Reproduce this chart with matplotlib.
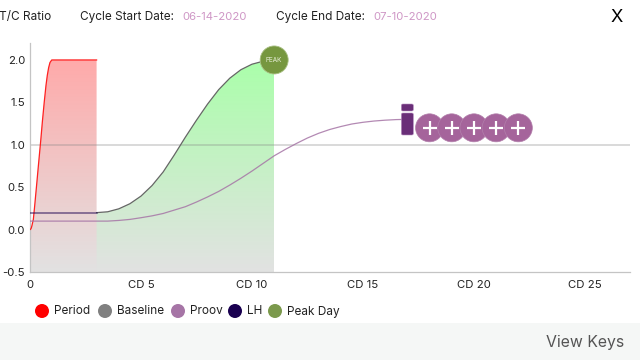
import numpy as np
import matplotlib
matplotlib.use("Agg")
import matplotlib.pyplot as plt
from matplotlib.colors import LinearSegmentedColormap
from matplotlib.patches import Circle, FancyBboxPatch, Polygon, Rectangle

plt.rcParams['font.family'] = ['Inter', 'DejaVu Sans']

# values
period_x = [0, 0.03, 0.06, 0.09, 0.15, 0.2, 0.3, 0.38, 0.48, 0.56, 0.64, 0.72, 0.78, 0.84, 0.9, 0.98, 1.2, 3]
period_y = [0, 0.005, 0.02, 0.05, 0.12, 0.25, 0.53, 0.76, 1.04, 1.28, 1.5, 1.7, 1.82, 1.91, 1.97, 2.0, 2.0, 2.0]
base_x = [3, 3.5, 4, 4.5, 5, 5.5, 6, 6.5, 7, 7.5, 8, 8.5, 9, 9.5, 10, 10.5, 11]
base_y = [0.2, 0.21, 0.245, 0.305, 0.395, 0.52, 0.68, 0.88, 1.09, 1.29, 1.48, 1.65, 1.785, 1.885, 1.95, 1.985, 2.0]
proov_x = [0, 3, 3.5, 4, 4.5, 5, 5.5, 6, 6.5, 7, 7.5, 8, 8.5, 9, 9.5, 10, 10.5, 11, 11.5, 12, 12.5, 13, 13.5, 14, 14.5, 15, 15.5, 16, 16.5, 17]
proov_y = [0.1, 0.1, 0.1, 0.108, 0.12, 0.14, 0.162, 0.19, 0.23, 0.27, 0.325, 0.385, 0.45, 0.525, 0.605, 0.69, 0.78, 0.87, 0.945, 1.015, 1.08, 1.135, 1.18, 1.215, 1.245, 1.265, 1.28, 1.29, 1.297, 1.3]
lh_x = [0, 3]
lh_y = [0.2, 0.2]
peak_day, peak_val = 11, 2.0
plus_days = [18, 19, 20, 21, 22]
plus_val = 1.2
i_day = 17

y_ticks = [-0.5, 0.0, 0.5, 1.0, 1.5, 2.0]
y_labels = ['-0.5', '0.0', '0.5', '1.0', '1.5', '2.0']
x_ticks = [0, 5, 10, 15, 20, 25]
x_labels = ['0', 'CD 5', 'CD 10', 'CD 15', 'CD 20', 'CD 25']
legend_names = ['Period', 'Baseline', 'Proov', 'LH', 'Peak Day']
legend_colors = ['#ff0000', '#808080', '#a675a6', '#1a0050', '#7b994c']

fig = plt.figure(figsize=(6.4, 3.6), dpi=100)
ax = fig.add_axes([30/640, 88/360, 600/640, 229/360])

# overlay in pixel coordinates for the page furniture
ov = fig.add_axes([0, 0, 1, 1], zorder=5)
ov.set_xlim(0, 640)
ov.set_ylim(360, 0)
ov.axis('off')
ov.patch.set_alpha(0)


def gradient_fill(xs, ys, top_col, bottom_col='#e2e2e2', overlap=0.0):
    cmap = LinearSegmentedColormap.from_list('g', [bottom_col, top_col])
    grad = np.linspace(0, 1, 256).reshape(-1, 1)
    x0 = xs[0] - overlap
    im = ax.imshow(grad, origin='lower', aspect='auto', cmap=cmap, zorder=1,
                   extent=[x0, xs[-1], -0.5, 2.0])
    pts = [(x0, ys[0])] + list(zip(xs, ys)) + [(xs[-1], -0.5), (x0, -0.5)]
    poly = Polygon(pts, closed=True, transform=ax.transData, fill=False, lw=0)
    ax.add_patch(poly)
    im.set_clip_path(poly)


gradient_fill(base_x, base_y, '#aaffaa', overlap=0.06)
gradient_fill(period_x, period_y, '#ffaaaa')
ax.set_xlim(0, 27.03)
ax.set_ylim(-0.5, 2.2)

ax.axhline(1.0, color='#888888', alpha=0.4, lw=1.1, zorder=2)
ax.plot(period_x, period_y, color='#ff2020', lw=0.9, zorder=3)
ax.plot(base_x, base_y, color='#666666', lw=0.9, zorder=3)
ax.plot(proov_x, proov_y, color='#a675a6', lw=0.9, alpha=0.85, zorder=3)
ax.plot(lh_x, lh_y, color='#1a0050', lw=1.1, alpha=0.6, zorder=3)

for s in ['top', 'right']:
    ax.spines[s].set_visible(False)
for s in ['left', 'bottom']:
    ax.spines[s].set_color('#c4c4c4')
    ax.spines[s].set_linewidth(0.9)
ax.set_yticks(y_ticks, y_labels)
ax.set_xticks(x_ticks, x_labels)
ax.tick_params(length=0, labelsize=8.2, colors='#222222')
ax.tick_params(axis='x', pad=6)
ax.tick_params(axis='y', pad=3.5)


def to_px(x, y):
    return ov.transData.inverted().transform(ax.transData.transform((x, y)))


# peak circle
px, py = to_px(peak_day, peak_val)
ov.add_patch(Circle((px, py), 14, fc='#76973f', ec='#a9c084', lw=0.6))
ov.text(px, py, 'PEAK', color='#e8efd9', fontsize=4.6, ha='center', va='center')

# proov marks
for d in plus_days:
    px, py = to_px(d, plus_val)
    ov.add_patch(Circle((px, py), 14, fc='#a5649b', ec='#b27fab', lw=0.5))
    ov.plot([px-7, px+7], [py, py], color='white', lw=1.6, solid_capstyle='butt')
    ov.plot([px, px], [py-7, py+7], color='white', lw=1.6, solid_capstyle='butt')

# the "i" tag at the end of the proov line
px, py = to_px(i_day, 1.0)
for top, h in [(104.5, 6), (113.5, 21)]:
    ov.add_patch(FancyBboxPatch((px-5.5, top), 11, h, boxstyle='round,pad=0.5,rounding_size=1.5',
                                fc='#6a2e78', ec='#b58fbf', lw=0.4))

# header
dark = '#222222'
pink = '#cf97c6'
ov.text(-1, 17, 'T/C Ratio', color=dark, fontsize=8.5, va='center')
ov.text(80, 17, 'Cycle Start Date:', color=dark, fontsize=8.5, va='center')
ov.text(182, 17, '06-14-2020', color=pink, fontsize=8.2, va='center')
ov.text(276, 17, 'Cycle End Date:', color=dark, fontsize=8.5, va='center')
ov.text(373, 17, '07-10-2020', color=pink, fontsize=8.2, va='center')
ov.text(617, 18, 'X', color='black', fontsize=13, ha='center', va='center')

# legend
legend_cx = [42, 105, 178, 235, 275]
for name, col, cx in zip(legend_names, legend_colors, legend_cx):
    ov.add_patch(Circle((cx, 311), 7, fc=col, ec='none'))
    ov.text(cx+12, 311.5, name, color=dark, fontsize=8.5, va='center')

# footer
ov.add_patch(Rectangle((0, 323), 640, 37, fc='#f5f7f6', ec='none'))
ov.text(624, 343, 'View Keys', color='#555555', fontsize=11.4, ha='right', va='center')

fig.savefig('out.png', dpi=100)
